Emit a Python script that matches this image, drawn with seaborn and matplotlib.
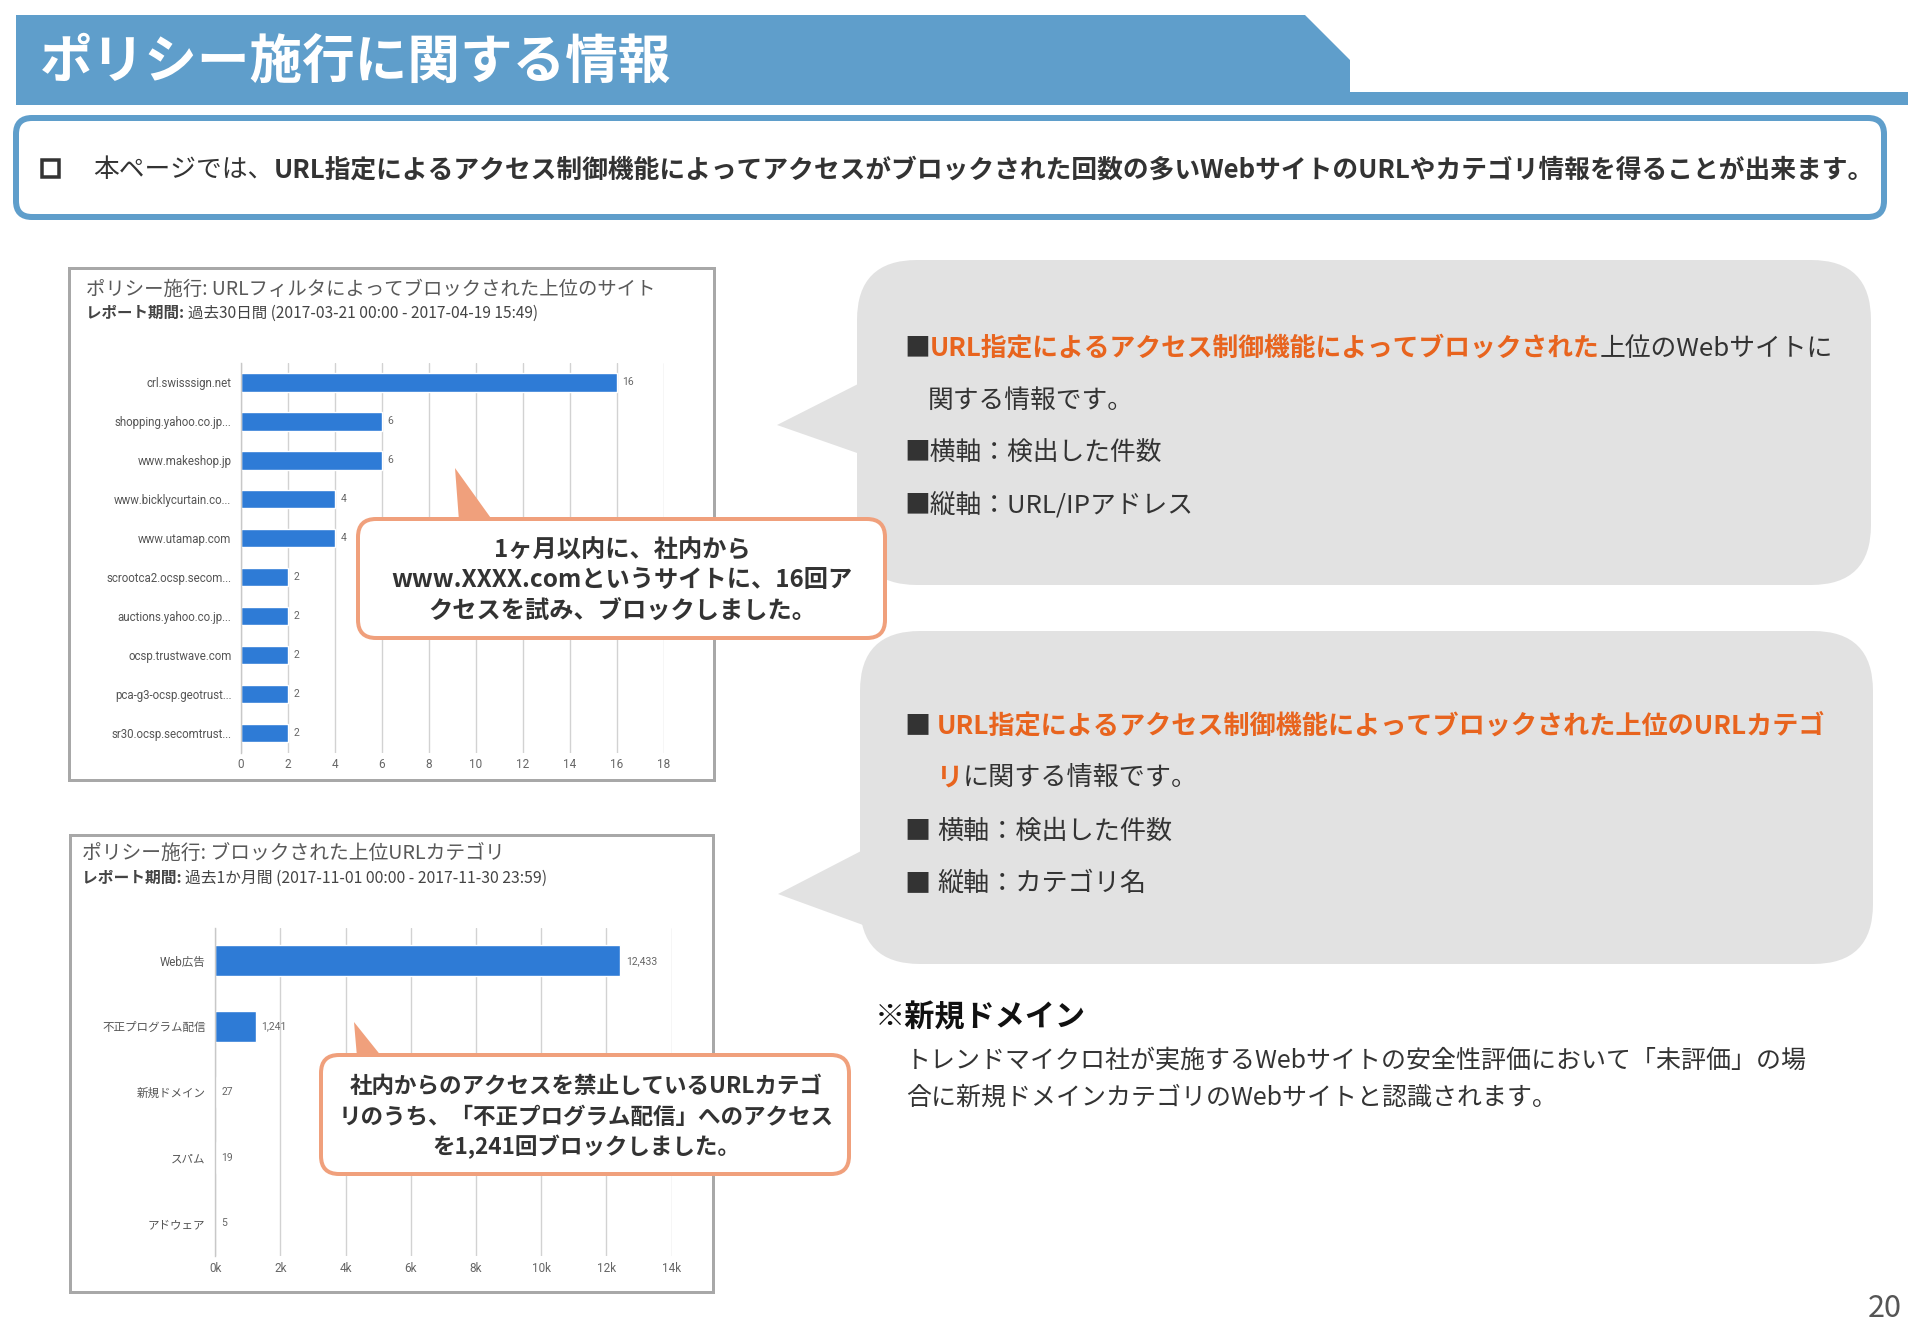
import numpy as np
import pandas as pd
import matplotlib
matplotlib.use("Agg")
import matplotlib.pyplot as plt
import seaborn as sns
from matplotlib.patches import FancyBboxPatch, Polygon, Rectangle

# ---------------- data ----------------
sites = ["crl.swisssign.net", "shopping.yahoo.co.jp...", "www.makeshop.jp",
         "www.bicklycurtain.co...", "www.utamap.com", "scrootca2.ocsp.secom...",
         "auctions.yahoo.co.jp...", "ocsp.trustwave.com", "pca-g3-ocsp.geotrust...",
         "sr30.ocsp.secomtrust..."]
site_counts = [16, 6, 6, 4, 4, 2, 2, 2, 2, 2]
site_ticks = [0, 2, 4, 6, 8, 10, 12, 14, 16, 18]
site_tick_labels = ["0", "2", "4", "6", "8", "10", "12", "14", "16", "18"]

categories = ["Web広告", "不正プログラム配信", "新規ドメイン", "スパム", "アドウェア"]
category_counts = [12433, 1241, 27, 19, 5]
category_ticks = [0, 2000, 4000, 6000, 8000, 10000, 12000, 14000]
category_tick_labels = ["0k", "2k", "4k", "6k", "8k", "10k", "12k", "14k"]

W, H = 1920, 1327
sns.set_theme(style="white")
plt.rcParams['font.family'] = ['Noto Sans CJK JP', 'DejaVu Sans']

fig = plt.figure(figsize=(W / 100, H / 100), dpi=100)
fig.patch.set_facecolor('white')

CHART_FONT = ['Roboto', 'Noto Sans CJK JP', 'DejaVu Sans']
JP = ['Noto Sans CJK JP', 'DejaVu Sans']
BAR = '#2E7BD6'
GRID = '#D2D2D2'
DARK = '#333333'
ORANGE = '#E8641E'
BLUE = '#5F9ECB'
BUBBLE = '#E2E2E2'
CALLOUT = '#F0A07C'


def px_axes(x0, y0, x1, y1, **kw):
    return fig.add_axes([x0 / W, 1 - y1 / H, (x1 - x0) / W, (y1 - y0) / H], **kw)


def bar_chart(box, labels, values, ticks, ticklabels, xmax, value_labels):
    ax = px_axes(*box)
    df = pd.DataFrame({'label': labels, 'value': values})
    sns.barplot(data=df, x='value', y='label', orient='h', color=BAR,
                saturation=1, width=0.47, ax=ax)
    ax.set_xlim(0, xmax)
    ax.set_ylim(len(labels) - 0.5, -0.5)
    ax.set_xticks(ticks)
    ax.set_xticklabels(ticklabels)
    ax.grid(axis='x', color=GRID, lw=1)
    ax.grid(axis='y', visible=False)
    ax.set_axisbelow(True)
    for s in ['top', 'right', 'bottom']:
        ax.spines[s].set_visible(False)
    ax.spines['left'].set_color('#C8C8C8')
    ax.spines['left'].set_linewidth(1)
    ax.set_xlabel('')
    ax.set_ylabel('')
    ax.tick_params(axis='x', length=0, pad=4, labelsize=8.5, labelcolor='#666666')
    ax.tick_params(axis='y', length=0, pad=7, labelsize=8.3, labelcolor='#555555')
    ax.set_yticks(np.arange(-0.5, len(labels)), minor=True)
    ax.tick_params(axis='y', which='minor', length=5, color='#C8C8C8', width=1)
    for lab in ax.get_xticklabels() + ax.get_yticklabels():
        lab.set_family(CHART_FONT)
    ax.bar_label(ax.containers[0], labels=value_labels, padding=4, fontsize=7.5,
                 color='#666666', family=CHART_FONT)
    return ax


bar_chart((241.1, 363.0, 663.7, 752.5), sites, site_counts, site_ticks,
          site_tick_labels, 18, [str(v) for v in site_counts])
bar_chart((215.3, 928.0, 671.5, 1256.0), categories, category_counts, category_ticks,
          category_tick_labels, 14000, [f"{v:,}" for v in category_counts])

# ---------------- overlay (slide decorations) ----------------
ov = fig.add_axes([0, 0, 1, 1], zorder=10)
ov.set_xlim(0, W)
ov.set_ylim(H, 0)
ov.axis('off')
ov.patch.set_alpha(0)
renderer = fig.canvas.get_renderer()
PX2PT = 0.72


def text_w(txt, size, weight='normal', family=JP):
    t = ov.text(0, 0, txt, fontsize=size, fontweight=weight, family=family)
    w = t.get_window_extent(renderer).width
    t.remove()
    return w


def draw_runs(x, yc, runs, size, width=None, family=JP, ha='left'):
    if width is not None:
        tot = sum(text_w(r[0], size, r[2], family) for r in runs)
        size = size * width / tot
    widths = [text_w(r[0], size, r[2], family) for r in runs]
    if ha == 'center':
        x = x - sum(widths) / 2
    elif ha == 'right':
        x = x - sum(widths)
    yb = yc + 0.36 * size / PX2PT
    for (txt, color, weight), w in zip(runs, widths):
        ov.text(x, yb, txt, fontsize=size, fontweight=weight, color=color,
                family=family, va='baseline', ha='left')
        x += w
    return size, x


# header band
ov.add_patch(Polygon([(16, 15), (1305, 15), (1350, 60), (1350, 92), (1908, 92),
                      (1908, 105), (16, 105)], closed=True, fc=BLUE, ec='none'))
draw_runs(40, 59, [("ポリシー施行に関する情報", 'white', 'bold')], 38, width=631)

# info box
ov.add_patch(FancyBboxPatch((16, 118), 1868, 99, boxstyle="round,pad=0,rounding_size=16",
                            fc='white', ec=BLUE, lw=6 * PX2PT))
ov.add_patch(Rectangle((42, 160), 17, 17, fc='none', ec=DARK, lw=3.5 * PX2PT))
draw_runs(93, 168, [("本ページでは、", DARK, 'normal'),
                    ("URL指定によるアクセス制御機能によってアクセスがブロックされた回数の多いWebサイトのURLやカテゴリ情報を得ることが出来ます。",
                     DARK, 'bold')], 18, width=1780)

# chart frames
ov.add_patch(Rectangle((69, 268), 645, 512, fc='none', ec='#A8A8A8', lw=3 * PX2PT))
ov.add_patch(Rectangle((70, 835), 643, 457, fc='none', ec='#A8A8A8', lw=3 * PX2PT))

# chart titles
draw_runs(86, 288, [("ポリシー施行: URLフィルタによってブロックされた上位のサイト", '#595959', 'normal')],
          13, width=567)
draw_runs(86, 312, [("レポート期間: ", '#444444', 'bold'),
                    ("過去30日間 (2017-03-21 00:00 - 2017-04-19 15:49)", '#444444', 'normal')],
          10, width=450)
draw_runs(82, 852, [("ポリシー施行: ブロックされた上位URLカテゴリ", '#595959', 'normal')],
          13, width=422)
draw_runs(82, 877, [("レポート期間: ", '#444444', 'bold'),
                    ("過去1か月間 (2017-11-01 00:00 - 2017-11-30 23:59)", '#444444', 'normal')],
          10, width=466)

# gray speech bubbles
ov.add_patch(FancyBboxPatch((857, 260), 1014, 325, boxstyle="round,pad=0,rounding_size=60",
                            fc=BUBBLE, ec='none'))
ov.add_patch(Polygon([(860, 383), (777, 425), (860, 454)], closed=True, fc=BUBBLE, ec='none'))
ov.add_patch(FancyBboxPatch((860, 631), 1013, 333, boxstyle="round,pad=0,rounding_size=60",
                            fc=BUBBLE, ec='none'))
ov.add_patch(Polygon([(863, 850), (778, 894), (863, 925)], closed=True, fc=BUBBLE, ec='none'))

# bubble 1 text
s1, _ = draw_runs(904, 346.5, [("■", DARK, 'normal'),
                               ("URL指定によるアクセス制御機能によってブロックされた", ORANGE, 'bold'),
                               ("上位のWebサイトに", DARK, 'normal')], 19, width=929)
draw_runs(928, 399, [("関する情報です。", DARK, 'normal')], s1)
draw_runs(904, 452, [("■横軸：検出した件数", DARK, 'normal')], s1)
draw_runs(904, 504.5, [("■縦軸：URL/IPアドレス", DARK, 'normal')], s1)

# bubble 2 text
s2, _ = draw_runs(937, 723.7, [("URL指定によるアクセス制御機能によってブロックされた上位のURLカテゴ",
                                ORANGE, 'bold')], 19, width=888)
draw_runs(904, 723.7, [("■", DARK, 'normal')], s2)
draw_runs(937, 776, [("リ", ORANGE, 'bold'), ("に関する情報です。", DARK, 'normal')], s2)
draw_runs(904, 829, [("■", DARK, 'normal')], s2)
draw_runs(937, 829, [("横軸：検出した件数", DARK, 'normal')], s2)
draw_runs(904, 881.6, [("■", DARK, 'normal')], s2)
draw_runs(937, 881.6, [("縦軸：カテゴリ名", DARK, 'normal')], s2)

# orange callouts
ov.add_patch(FancyBboxPatch((358, 519), 527, 119, boxstyle="round,pad=0,rounding_size=18",
                            fc='white', ec=CALLOUT, lw=4 * PX2PT))
ov.add_patch(Polygon([(455, 468), (459, 521), (493, 521)], closed=True, fc=CALLOUT, ec='none'))
sc, _ = draw_runs(622, 579, [("www.XXXX.comというサイトに、16回ア", DARK, 'bold')], 17,
                  width=461, ha='center')
draw_runs(622, 548.6, [("1ヶ月以内に、社内から", DARK, 'bold')], sc, ha='center')
draw_runs(622, 610, [("クセスを試み、ブロックしました。", DARK, 'bold')], sc, ha='center')

ov.add_patch(FancyBboxPatch((321, 1055), 528, 119, boxstyle="round,pad=0,rounding_size=18",
                            fc='white', ec=CALLOUT, lw=4 * PX2PT))
ov.add_patch(Polygon([(354, 1022), (357, 1057), (382, 1057)], closed=True, fc=CALLOUT, ec='none'))
sc2, _ = draw_runs(586, 1085, [("社内からのアクセスを禁止しているURLカテゴ", DARK, 'bold')], 17,
                   width=474, ha='center')
draw_runs(586, 1115.5, [("リのうち、「不正プログラム配信」へのアクセス", DARK, 'bold')], sc2, ha='center')
draw_runs(586, 1146, [("を1,241回ブロックしました。", DARK, 'bold')], sc2, ha='center')

# note
draw_runs(875, 1016, [("※新規ドメイン", '#111111', 'bold')], 21, width=211)
sn, _ = draw_runs(906, 1059, [("トレンドマイクロ社が実施するWebサイトの安全性評価において「未評価」の場",
                               DARK, 'normal')], 18, width=900)
draw_runs(906, 1096, [("合に新規ドメインカテゴリのWebサイトと認識されます。", DARK, 'normal')], sn)

# page number
draw_runs(1902, 1306, [("20", '#555555', 'normal')], 22, ha='right')

fig.savefig("out.png", dpi=100, facecolor='white')
